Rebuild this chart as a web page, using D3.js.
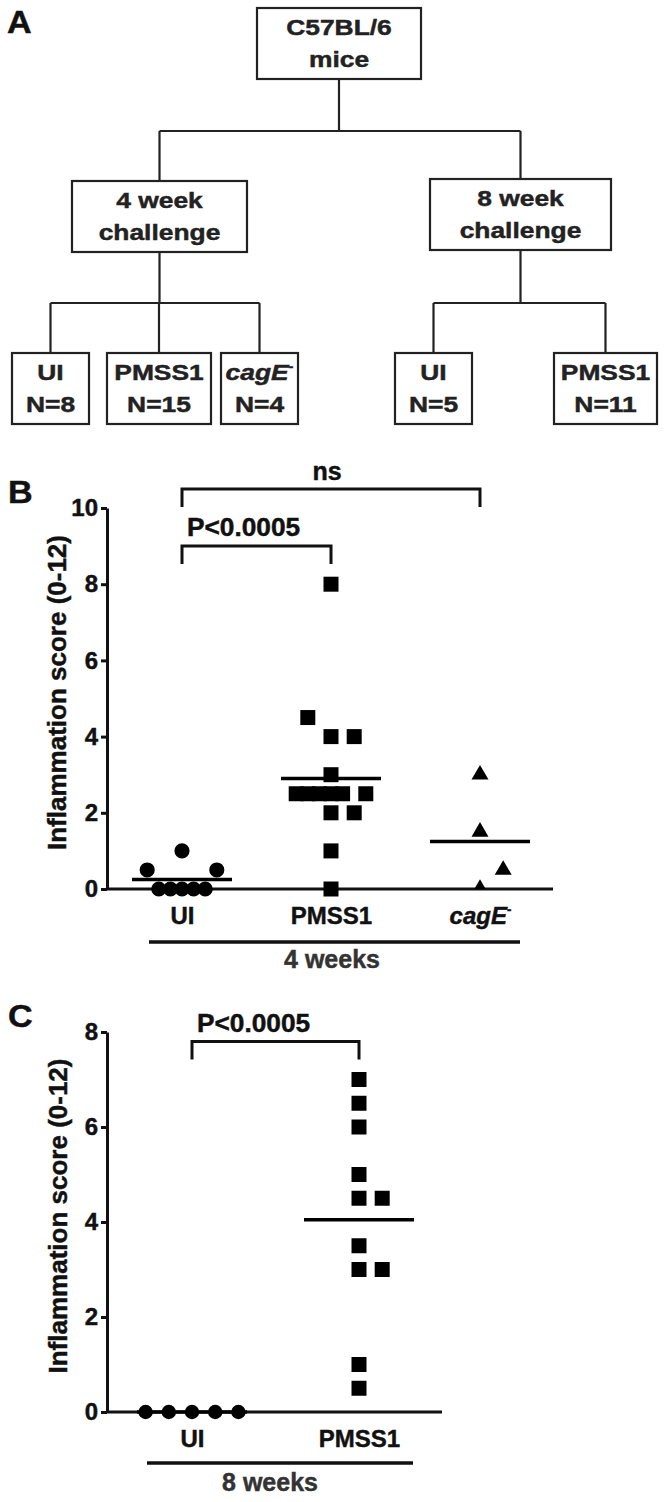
<!DOCTYPE html>
<meta charset="utf-8">
<script src="https://d3js.org/d3.v7.min.js"></script>
<style>
body { margin: 0; background: #fff; }
text { font-family: "Liberation Sans", Arial, sans-serif; font-weight: bold; stroke-width: 0.45px; }
</style>
<body></body>
<script>

// ---------- data ----------

// A: study design
var rootLabel = ["C57BL/6", "mice"];
var challengeLabels = [["4 week", "challenge"], ["8 week", "challenge"]];
var groups4wk = ["UI", "PMSS1", "cagE"];
var n4wk = [8, 15, 4];
var groups8wk = ["UI", "PMSS1"];
var n8wk = [5, 11];

// B: inflammation score, 4 weeks (col = column in the dot stack)
var bUI = [0.5, 1, 0.5, 0, 0, 0, 0, 0];
var bUICol = [-3, 0, 3, -2, -1, 0, 1, 2];
var bPMSS1 = [8, 4.5, 4, 4, 3, 2.5, 2.5, 2.5, 2.5, 2.5, 2.5, 2, 2, 1, 0];
var bPMSS1Col = [0, -2, 0, 2, 0, -3, -2, -1, 0, 1, 3, 0, 2, 0, 0];
var bCagE = [3, 1.5, 0.5, 0];
var bCagECol = [0, 0, 2, 0];
var bTicks = [0, 2, 4, 6, 8, 10];
var bStats = [{from: "UI", to: "cagE", label: "ns", level: 10.5},
              {from: "UI", to: "PMSS1", label: "P<0.0005", level: 9.0}];

// C: inflammation score, 8 weeks
var cUI = [0, 0, 0, 0, 0];
var cUICol = [-4, -2, 0, 2, 4];
var cPMSS1 = [7, 6.5, 6, 5, 4.5, 4.5, 3.5, 3, 3, 1, 0.5];
var cPMSS1Col = [0, 0, 0, 0, 0, 2, 0, 0, 2, 0, 0];
var cTicks = [0, 2, 4, 6, 8];
var cStats = [{from: "UI", to: "PMSS1", label: "P<0.0005", level: 7.8}];

var yTitle = "Inflammation score (0-12)";

// ---------- svg ----------

var W = 665, H = 1502;
var svg = d3.select("body").append("svg")
    .attr("width", W)
    .attr("height", H);
svg.append("rect").attr("width", W).attr("height", H).attr("fill", "#fff");

// text helper: x-stretch factor sx
function txt(g, x, y, s, size, opt) {
  opt = opt || {};
  return g.append("text")
    .attr("transform", "translate(" + x + "," + y + ") scale(" + (opt.sx || 1) + ",1)")
    .attr("text-anchor", opt.anchor || "middle")
    .style("font-size", size + "px")
    .attr("fill", opt.fill || "#111")
    .attr("stroke", opt.fill || "#111")
    .text(s);
}

function cagLabel(t, size) {
  t.text(null);
  t.append("tspan").style("font-style", "italic").text("cagE");
  t.append("tspan").attr("dy", -size * 0.4).style("font-size", (size * 0.55) + "px").text("-");
}

// ---------- A ----------

var gA = svg.append("g");
txt(gA, 7, 33, "A", 31, {anchor: "start", sx: 1.1});

var boxH = 71;
var root = {cx: 339, top: 8, w: 164, lines: rootLabel};
var chall = [
  {cx: 159.5, top: 181, w: 175, lines: challengeLabels[0]},
  {cx: 520.5, top: 179, w: 181, lines: challengeLabels[1]}
];
var leafCx4 = [50.5, 159, 259.5], leafW4 = [77, 104, 77];
var leafCx8 = [433.5, 605.5], leafW8 = [77, 103];
chall[0].children = groups4wk.map(function(g, i) {
  return {cx: leafCx4[i], top: 353, w: leafW4[i], lines: [g, "N=" + n4wk[i]]};
});
chall[1].children = groups8wk.map(function(g, i) {
  return {cx: leafCx8[i], top: 353, w: leafW8[i], lines: [g, "N=" + n8wk[i]]};
});
root.children = chall;

function drawNode(n) {
  gA.append("rect")
    .attr("x", n.cx - n.w / 2).attr("y", n.top)
    .attr("width", n.w).attr("height", boxH)
    .attr("fill", "none").attr("stroke", "#222").attr("stroke-width", 2.2);
  n.lines.forEach(function(l, i) {
    var t = txt(gA, n.cx, n.top + 27 + i * 32, l, 22, {sx: 1.2, fill: "#222"});
    if (l === "cagE") cagLabel(t, 22);
  });
  if (n.children) {
    var mid = n.children[0].top - 50;
    var xs = n.children.map(function(c) { return c.cx; });
    var p = "M" + n.cx + "," + (n.top + boxH) + "V" + mid +
            "M" + d3.min(xs) + "," + mid + "H" + d3.max(xs);
    n.children.forEach(function(c) { p += "M" + c.cx + "," + mid + "V" + c.top; });
    gA.append("path").attr("d", p).attr("fill", "none")
      .attr("stroke", "#222").attr("stroke-width", 2.2);
    n.children.forEach(drawNode);
  }
}
drawNode(root);

// ---------- dot plots ----------

var col = d3.scaleLinear().domain([0, 1]).range([0, 11.6]);

function dotPlot(cfg) {
  var g = svg.append("g");
  var x = d3.scalePoint().domain(cfg.groups).range(cfg.xRange);
  var y = d3.scaleLinear().domain(cfg.yDomain).range(cfg.yRange);

  txt(g, 8, cfg.letterY, cfg.letter, 31, {anchor: "start", sx: 1.1});

  // y axis
  var ya = g.append("g").attr("transform", "translate(" + cfg.x0 + ",0)")
    .call(d3.axisLeft(y).tickValues(cfg.ticks).tickSize(6).tickSizeOuter(0).tickPadding(3));
  ya.selectAll("path, line").attr("stroke", "#111").attr("stroke-width", 3);
  ya.selectAll("text").style("font-size", "24px").attr("fill", "#111").attr("stroke", "#111");

  // y title
  var ym = (cfg.yRange[0] + cfg.yRange[1]) / 2 - 6;
  g.append("text")
    .attr("transform", "translate(" + cfg.titleX + "," + ym + ") rotate(-90)")
    .attr("text-anchor", "middle").style("font-size", "26px")
    .attr("fill", "#111").attr("stroke", "#111")
    .text(yTitle);

  // x axis line + category labels
  g.append("line")
    .attr("x1", cfg.x0).attr("x2", cfg.x1)
    .attr("y1", y(0)).attr("y2", y(0))
    .attr("stroke", "#111").attr("stroke-width", 3);
  var xa = g.append("g").attr("transform", "translate(0," + y(0) + ")")
    .call(d3.axisBottom(x).tickSize(0).tickPadding(18));
  xa.select(".domain").remove();
  xa.selectAll("text").style("font-size", "24px").attr("fill", "#111").attr("stroke", "#111")
    .each(function(d) { if (d === "cagE") cagLabel(d3.select(this), 24); });

  // time point bar
  g.append("line")
    .attr("x1", cfg.bar[0]).attr("x2", cfg.bar[1])
    .attr("y1", cfg.barY).attr("y2", cfg.barY)
    .attr("stroke", "#111").attr("stroke-width", 3.5);
  txt(g, cfg.barLabelX, cfg.barY + cfg.barLabelDy, cfg.barLabel, 25, {fill: "#333"});

  // points
  cfg.series.forEach(function(s) {
    var sg = g.append("g");
    if (s.clip) {
      var id = "clip" + cfg.letter + s.group;
      g.append("clipPath").attr("id", id).append("rect")
        .attr("x", 0).attr("y", 0).attr("width", W).attr("height", y(0));
      sg.attr("clip-path", "url(#" + id + ")");
    }
    sg.selectAll("path")
      .data(s.values.map(function(v, i) { return {v: v, c: s.cols[i]}; }))
      .enter().append("path")
      .attr("d", d3.symbol().type(s.shape).size(s.size))
      .attr("transform", function(d) {
        return "translate(" + (x(s.group) + col(d.c)) + "," + y(d.v) + ")";
      })
      .attr("fill", "#000");
    // mean line
    var m = d3.mean(s.values);
    g.append("line")
      .attr("x1", x(s.group) - cfg.meanHalf).attr("x2", x(s.group) + cfg.meanHalf)
      .attr("y1", y(m)).attr("y2", y(m))
      .attr("stroke", "#000").attr("stroke-width", 3.5);
  });

  // significance brackets
  cfg.stats.forEach(function(b) {
    var x1 = x(b.from), x2 = x(b.to), yy = y(b.level);
    g.append("path")
      .attr("d", "M" + x1 + "," + (yy + 18) + "V" + yy + "H" + x2 + "V" + (yy + 18))
      .attr("fill", "none").attr("stroke", "#111").attr("stroke-width", 3);
    if (b.label === "ns") txt(g, (x1 + x2) / 2 - 4, yy - 9, b.label, 25);
    else txt(g, x1 + 5, yy - 10, b.label, 25, {anchor: "start", sx: 1.05});
  });
}

var circle = d3.symbolCircle, square = d3.symbolSquare, tri = d3.symbolTriangle;

dotPlot({
  letter: "B", letterY: 503,
  groups: groups4wk, xRange: [182, 480],
  yDomain: [0, 10], yRange: [889, 508], ticks: bTicks,
  x0: 107, x1: 553, titleX: 66, meanHalf: 50,
  bar: [149, 520], barY: 942, barLabel: "4 weeks", barLabelX: 332, barLabelDy: 26,
  series: [
    {group: "UI", values: bUI, cols: bUICol, shape: circle, size: 180},
    {group: "PMSS1", values: bPMSS1, cols: bPMSS1Col, shape: square, size: 225},
    {group: "cagE", values: bCagE, cols: bCagECol, shape: tri, size: 125, clip: true}
  ],
  stats: bStats
});

dotPlot({
  letter: "C", letterY: 1027,
  groups: groups8wk, xRange: [192, 359],
  yDomain: [0, 8], yRange: [1412, 1032], ticks: cTicks,
  x0: 107, x1: 442, titleX: 67, meanHalf: 55,
  bar: [147, 413], barY: 1463, barLabel: "8 weeks", barLabelX: 270, barLabelDy: 28,
  series: [
    {group: "UI", values: cUI, cols: cUICol, shape: circle, size: 165},
    {group: "PMSS1", values: cPMSS1, cols: cPMSS1Col, shape: square, size: 225}
  ],
  stats: cStats
});

</script>
